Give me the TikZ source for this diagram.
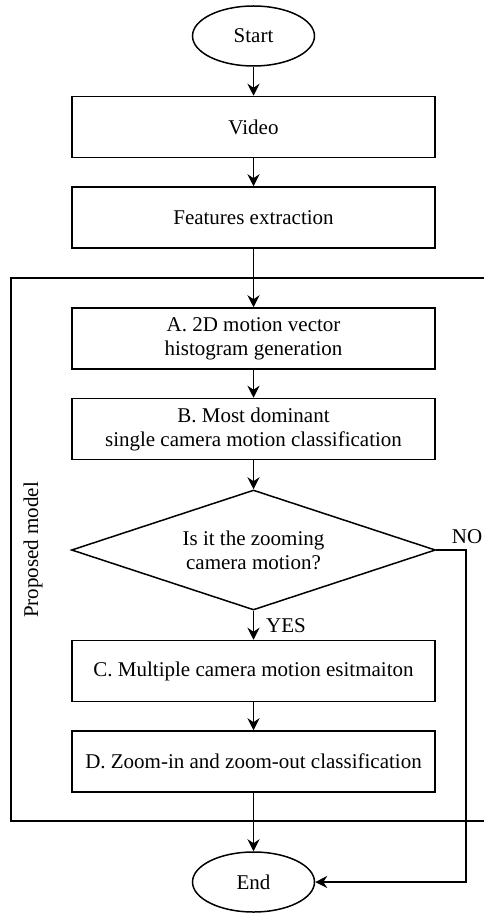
\documentclass[tikz,border=0pt]{standalone}
\usepackage{fontspec}
\setmainfont{Liberation Serif}
\usetikzlibrary{shapes.geometric,arrows.meta}
\begin{document}
\begin{tikzpicture}[x=0.5pt,y=-0.5pt,
  font=\fontsize{10.5}{12}\selectfont,
  line width=0.75pt,
  box/.style={draw,rectangle,minimum width=181.5pt,minimum height=30.5pt,inner sep=0pt,align=center},
  term/.style={draw,ellipse,minimum width=61pt,minimum height=30pt,inner sep=0pt},
  decision/.style={draw,diamond,aspect=3,minimum width=182pt,minimum height=60pt,inner sep=0pt,align=center},
  arr/.style={-{Stealth[length=6pt,width=6pt,inset=2pt]}}]
\useasboundingbox (0,0) rectangle (484,914);
\node[term] (start) at (253.5,36) {Start};
\node[box] (video) at (253.5,127) {Video};
\node[box] (feat) at (253.5,217.5) {Features extraction};
\node[box] (a) at (253.5,338.5) {A. 2D motion vector\\histogram generation};
\node[box] (b) at (253.5,429) {B. Most dominant\\single camera motion classification};
\node[decision] (dec) at (253.5,550) {Is it the zooming\\camera motion?};
\node[box] (c) at (253.5,671) {C. Multiple camera motion esitmaiton};
\node[box] (d) at (253.5,761.5) {D. Zoom-in and zoom-out classification};
\node[term] (end) at (253.5,882) {End};
\coordinate (ftr) at (484,278);
\coordinate (ftl) at (11,278);
\coordinate (fbl) at (11,821);
\coordinate (fbr) at (484,821);
\coordinate (noc) at (466,550);
\draw (ftr) -- (ftl) -- (fbl) -- (fbr);
\node[rotate=90] (pm) at (33,550) {Proposed model};
\draw[arr] (start) -- (video);
\draw[arr] (video) -- (feat);
\draw[arr] (feat) -- (a);
\draw[arr] (a) -- (b);
\draw[arr] (b) -- (dec);
\draw[arr] (dec) -- (c);
\draw[arr] (c) -- (d);
\draw[arr] (d) -- (end);
\draw[arr] (dec.east) -- (noc) |- (end.east);
\node (no) at (467,537) {NO};
\node (yes) at (286,626) {YES};
\end{tikzpicture}
\end{document}
